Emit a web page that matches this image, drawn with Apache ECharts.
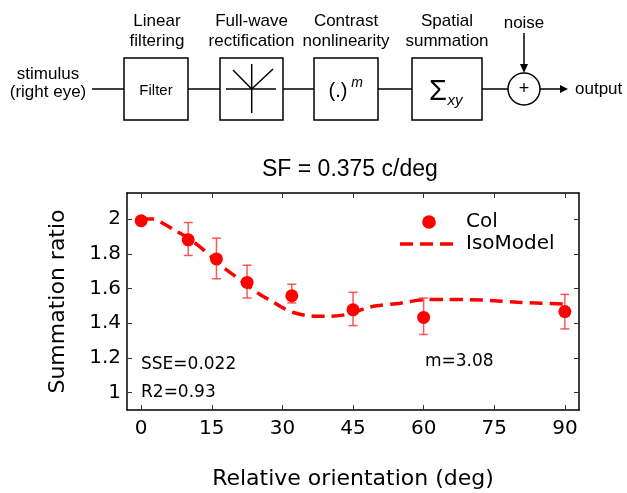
<!DOCTYPE html>
<html>
<head>
<meta charset="utf-8">
<script src="https://cdn.jsdelivr.net/npm/echarts@6/dist/echarts.min.js"></script>
<style>
html,body{margin:0;padding:0;background:#fff;}
#chart{width:627px;height:493px;}
</style>
</head>
<body>
<div id="chart"></div>
<script>
// ---- data ----
const orientations = [0, 10, 16, 22.5, 32, 45, 60, 90];
const summationRatio = [1.99, 1.88, 1.77, 1.635, 1.558, 1.477, 1.433, 1.467];
const errLow  = [1.98, 1.79, 1.656, 1.545, 1.517, 1.386, 1.335, 1.367];
const errHigh = [2.00, 1.98, 1.89, 1.734, 1.624, 1.578, 1.545, 1.566];
const modelX = [0, 2.5, 5, 7.5, 10, 12.5, 15, 17.5, 20, 22.5, 25, 27.5, 30, 32.5, 35, 37.5, 40, 42.5, 45, 47.5, 50, 55, 60, 65, 70, 75, 80, 85, 90];
const modelY = [2.00, 2.00, 1.97, 1.93, 1.89, 1.84, 1.78, 1.72, 1.67, 1.62, 1.57, 1.53, 1.49, 1.46, 1.445, 1.44, 1.44, 1.445, 1.46, 1.485, 1.50, 1.515, 1.535, 1.537, 1.535, 1.53, 1.52, 1.515, 1.51];
const xTicks = [0, 15, 30, 45, 60, 75, 90];
const yTicks = [1, 1.2, 1.4, 1.6, 1.8, 2];
const seriesNames = ['Col', 'IsoModel'];
const titleText = 'SF = 0.375 c/deg';
const xName = 'Relative orientation (deg)';
const yName = 'Summation ratio';
const notes = {sse: 'SSE=0.022', r2: 'R2=0.93', m: 'm=3.08'};

const chart = echarts.init(document.getElementById('chart'), null, {renderer: 'canvas'});

const AX = 'DejaVu Sans';
const AR = 'Liberation Sans, Arial, sans-serif';
const LW = 1.5;
const RED = '#ff0000';

function txt(text, x, y, size, opts) {
  opts = opts || {};
  return {
    type: 'text', x: x, y: y, z: 10,
    style: {
      text: text, fill: '#000',
      font: (opts.italic ? 'italic ' : '') + size + 'px ' + (opts.family || AR),
      textAlign: opts.align || 'center', align: opts.align || 'center',
      textVerticalAlign: 'middle', verticalAlign: 'middle'
    }
  };
}
function ln(x1, y1, x2, y2) {
  return {type: 'line', z: 10, shape: {x1: x1, y1: y1, x2: x2, y2: y2}, style: {stroke: '#000', lineWidth: LW}};
}
function box(x, y, w, h) {
  return {type: 'rect', z: 10, shape: {x: x, y: y, width: w, height: h}, style: {fill: 'rgba(0,0,0,0)', stroke: '#000', lineWidth: LW}};
}

const yMid = 89;
const graphics = [
  // labels above boxes
  txt('Linear', 157, 21, 17), txt('filtering', 157, 41, 17),
  txt('Full-wave', 251.5, 21, 17), txt('rectification', 251.5, 41, 17),
  txt('Contrast', 346, 21, 17), txt('nonlinearity', 346, 41, 17),
  txt('Spatial', 447, 21, 17), txt('summation', 447, 41, 17),
  txt('noise', 524, 23, 17),
  txt('stimulus', 48, 74, 17), txt('(right eye)', 48, 92, 17),
  // connecting lines and blocks
  ln(92, yMid, 124, yMid),
  box(124, 58, 64, 62),
  txt('Filter', 156, 91, 15),
  ln(188, yMid, 220, yMid),
  box(220, 58, 63, 62),
  ln(226, yMid, 276, yMid),
  ln(251.7, 64, 251.7, 113),
  ln(233, 70, 251.7, yMid),
  ln(273, 69, 251.7, yMid),
  ln(283, yMid, 314, yMid),
  box(314, 58, 64, 62),
  txt('(.)', 338, 91, 20),
  txt('m', 357, 83, 14, {italic: true}),
  ln(378, yMid, 412, yMid),
  box(412, 58, 70, 62),
  txt('Σ', 438, 92, 29),
  txt('xy', 455, 101, 15, {italic: true}),
  ln(482, yMid, 508, yMid),
  {type: 'circle', z: 10, shape: {cx: 524, cy: yMid, r: 16}, style: {fill: '#fff', stroke: '#000', lineWidth: LW}},
  txt('+', 524, 89, 18),
  ln(524, 33, 524, 66),
  {type: 'polygon', z: 10, shape: {points: [[520, 64], [528, 64], [524, 73]]}, style: {fill: '#000'}},
  ln(540, yMid, 562, yMid),
  {type: 'polygon', z: 10, shape: {points: [[560, 85], [560, 93], [568, 89]]}, style: {fill: '#000'}},
  txt('output', 575, 89, 17, {align: 'left'}),
  // legend
  {type: 'circle', z: 10, shape: {cx: 429, cy: 222, r: 6.8}, style: {fill: RED}},
  txt(seriesNames[0], 466, 222, 20, {align: 'left', family: AX}),
  {type: 'line', z: 10, shape: {x1: 400, y1: 244, x2: 460, y2: 244}, style: {stroke: RED, lineWidth: 3.5, lineDash: [13, 7]}},
  txt(seriesNames[1], 466, 244, 20, {align: 'left', family: AX}),
  // annotations in plot
  txt(notes.sse, 141, 365, 17, {align: 'left', family: AX}),
  txt(notes.r2, 141, 393, 17, {align: 'left', family: AX}),
  txt(notes.m, 425, 362, 17, {align: 'left', family: AX})
];

const frameAxis = {
  axisLine: {show: true, onZero: false, lineStyle: {color: '#000', width: LW}},
  splitLine: {show: false}
};
const tickStyle = {color: '#333', width: 1};

const option = {
  backgroundColor: '#fff',
  animation: false,
  title: {
    text: titleText, left: 262, top: 158, padding: 0,
    textStyle: {fontFamily: AR, fontSize: 23, fontWeight: 'normal', color: '#000'}
  },
  grid: {left: 127, right: 48, top: 193, bottom: 83, containLabel: false},
  xAxis: [
    Object.assign({
      type: 'value', min: -3, max: 93, position: 'bottom',
      name: xName, nameLocation: 'middle', nameGap: 58,
      nameTextStyle: {fontFamily: AX, fontSize: 22, color: '#000'},
      axisTick: {show: true, inside: true, length: 5, customValues: xTicks, lineStyle: tickStyle},
      axisLabel: {show: true, customValues: xTicks, fontFamily: AX, fontSize: 20, color: '#000', margin: 9}
    }, frameAxis),
    Object.assign({
      type: 'value', min: -3, max: 93, position: 'top',
      axisTick: {show: true, inside: true, length: 5, customValues: xTicks, lineStyle: tickStyle},
      axisLabel: {show: false}
    }, frameAxis)
  ],
  yAxis: [
    Object.assign({
      type: 'value', min: 0.9, max: 2.15, position: 'left',
      name: yName, nameLocation: 'middle', nameGap: 58,
      nameTextStyle: {fontFamily: AX, fontSize: 22, color: '#000'},
      axisTick: {show: true, inside: true, length: 5, customValues: yTicks, lineStyle: tickStyle},
      axisLabel: {show: true, customValues: yTicks, fontFamily: AX, fontSize: 20, color: '#000', margin: 6}
    }, frameAxis),
    Object.assign({
      type: 'value', min: 0.9, max: 2.15, position: 'right',
      axisTick: {show: true, inside: true, length: 5, customValues: yTicks, lineStyle: tickStyle},
      axisLabel: {show: false}
    }, frameAxis)
  ],
  series: [
    {
      name: seriesNames[1], type: 'line', xAxisIndex: 0, yAxisIndex: 0,
      data: modelX.map((x, i) => [x, modelY[i]]),
      symbol: 'none', smooth: 0.3,
      lineStyle: {color: RED, width: 3.5, type: [13, 7]},
      itemStyle: {color: RED}, z: 2
    },
    {
      name: 'errorbars', type: 'custom', xAxisIndex: 0, yAxisIndex: 0,
      data: orientations.map((x, i) => [x, errLow[i], errHigh[i]]),
      renderItem: function (params, api) {
        const lo = api.coord([api.value(0), api.value(1)]);
        const hi = api.coord([api.value(0), api.value(2)]);
        const c = 4.5;
        const st = {stroke: 'rgba(255,60,60,0.85)', lineWidth: 1.5};
        return {type: 'group', children: [
          {type: 'line', shape: {x1: lo[0], y1: lo[1], x2: hi[0], y2: hi[1]}, style: st},
          {type: 'line', shape: {x1: lo[0] - c, y1: lo[1], x2: lo[0] + c, y2: lo[1]}, style: st},
          {type: 'line', shape: {x1: hi[0] - c, y1: hi[1], x2: hi[0] + c, y2: hi[1]}, style: st}
        ]};
      },
      z: 3, silent: true
    },
    {
      name: seriesNames[0], type: 'scatter', xAxisIndex: 0, yAxisIndex: 0,
      data: orientations.map((x, i) => [x, summationRatio[i]]),
      symbol: 'circle', symbolSize: 13,
      itemStyle: {color: RED, opacity: 1}, z: 4
    }
  ],
  graphic: graphics
};
chart.setOption(option);
</script>
</body>
</html>
